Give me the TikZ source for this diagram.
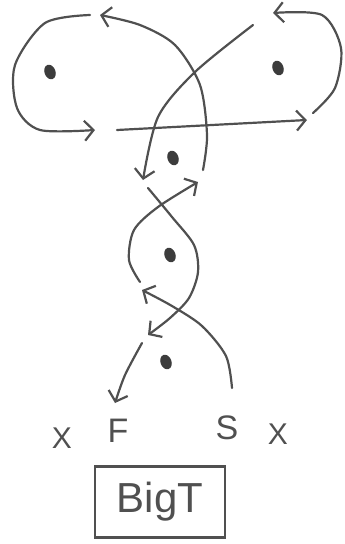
\documentclass[tikz,border=0pt]{standalone}
\usepackage{fontspec}
\setmainfont{Liberation Sans}
\usetikzlibrary{arrows.meta,shapes.geometric}
\definecolor{pencil}{HTML}{505050}

\begin{document}
\begin{tikzpicture}[x=1pt, y=1pt,
    route/.style={draw=pencil, line width=2.2pt, line cap=round,
                  -{Straight Barb[length=9pt, width=20pt, line width=2.2pt]}},
    spot/.style={ellipse, fill=pencil!75!black, minimum width=11pt,
                 minimum height=15pt, inner sep=0pt, rotate=20},
    lbl/.style={text=pencil, inner sep=0pt, font=\fontsize{34}{36}\selectfont},
    play/.style={draw=pencil, line width=2.4pt, minimum width=130pt,
                 minimum height=71pt, inner sep=0pt, text=pencil,
                 font=\fontsize{42}{44}\selectfont}]
  \useasboundingbox (0,0) rectangle (345,-544);

  % players
  \node[spot] (wl) at (50,-72)  {};
  \node[spot] (wr) at (278,-68) {};
  \node[spot] (qb) at (173,-158) {};
  \node[spot] (fb) at (170,-255) {};
  \node[spot] (hb) at (166,-362) {};

  % line and backs
  \node[lbl, font=\fontsize{30}{32}\selectfont] (xl) at (62,-438) {X};
  \node[lbl] (f)  at (118,-431) {F};
  \node[lbl] (s)  at (227,-428) {S};
  \node[lbl, font=\fontsize{30}{32}\selectfont] (xr) at (278,-434) {X};
  \node[play] (name) at (160,-502) {BigT};

  % route ends
  \coordinate (s0) at (232,-388);  \coordinate (s1) at (142,-290);
  \coordinate (c0) at (140,-282);  \coordinate (c1) at (198,-182);
  \coordinate (u0) at (203,-170);  \coordinate (u1) at (100,-15);
  \coordinate (l0) at (90,-15);    \coordinate (l1) at (95,-130);
  \coordinate (a0) at (117,-130);  \coordinate (a1) at (307,-120);
  \coordinate (r0) at (313,-113);  \coordinate (r1) at (273,-13);
  \coordinate (d0) at (253,-25);   \coordinate (d1) at (143,-180);
  \coordinate (w0) at (148,-188);  \coordinate (w1) at (148,-335);
  \coordinate (e0) at (142,-343);  \coordinate (e1) at (115,-403);

  % the route
  \draw[route] plot[smooth] coordinates {(s0) (226,-356) (202,-326) (172,-306) (s1)};
  \draw[route] plot[smooth] coordinates {(c0) (129,-260) (134,-230) (158,-207) (c1)};
  \draw[route] plot[smooth] coordinates {(u0) (207,-135) (200,-85) (175,-45) (140,-25) (u1)};
  \draw[route] plot[smooth] coordinates {(l0) (45,-23) (15,-65) (17,-108) (40,-130) (l1)};
  \draw[route] (a0) -- (a1);
  \draw[route] plot[smooth] coordinates {(r0) (335,-88) (341,-48) (322,-15) (r1)};
  \draw[route] plot[smooth] coordinates {(d0) (195,-72) (158,-117) (d1)};
  \draw[route] plot[smooth] coordinates {(w0) (172,-217) (194,-245) (198,-272) (189,-298) (170,-318) (w1)};
  \draw[route] plot[smooth] coordinates {(e0) (125,-375) (e1)};
\end{tikzpicture}
\end{document}
